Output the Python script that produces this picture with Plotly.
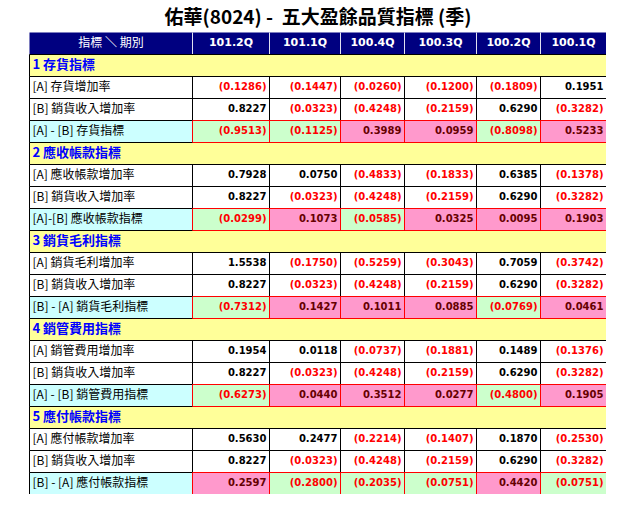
import plotly.graph_objects as go

periods = ["101.2Q", "101.1Q", "100.4Q", "100.3Q", "100.2Q", "100.1Q"]
corner_label = "指標 ＼ 期別"

section_titles = ["1 存貨指標", "2 應收帳款指標", "3 銷貨毛利指標", "4 銷管費用指標", "5 應付帳款指標"]
a_labels = ["[A] 存貨增加率", "[A] 應收帳款增加率", "[A] 銷貨毛利增加率", "[A] 銷管費用增加率", "[A] 應付帳款增加率"]
b_label = "[B] 銷貨收入增加率"
idx_labels = ["[A] - [B] 存貨指標", "[A]-[B] 應收帳款指標", "[B] - [A] 銷貨毛利指標",
              "[A] - [B] 銷管費用指標", "[B] - [A] 應付帳款指標"]

sales_growth = [0.8227, -0.0323, -0.4248, -0.2159, 0.6290, -0.3282]

inventory_growth = [-0.1286, -0.1447, -0.0260, -0.1200, -0.1809, 0.1951]
receivable_growth = [0.7928, 0.0750, -0.4833, -0.1833, 0.6385, -0.1378]
gross_profit_growth = [1.5538, -0.1750, -0.5259, -0.3043, 0.7059, -0.3742]
sga_growth = [0.1954, 0.0118, -0.0737, -0.1881, 0.1489, -0.1376]
payable_growth = [0.5630, 0.2477, -0.2214, -0.1407, 0.1870, -0.2530]

inventory_idx = [-0.9513, -0.1125, 0.3989, 0.0959, -0.8098, 0.5233]
receivable_idx = [-0.0299, 0.1073, -0.0585, 0.0325, 0.0095, 0.1903]
gross_profit_idx = [-0.7312, 0.1427, 0.1011, 0.0885, -0.0769, 0.0461]
sga_idx = [-0.6273, 0.0440, 0.3512, 0.0277, -0.4800, 0.1905]
payable_idx = [0.2597, -0.2800, -0.2035, -0.0751, 0.4420, -0.0751]

growth_rows = [inventory_growth, receivable_growth, gross_profit_growth, sga_growth, payable_growth]
idx_rows = [inventory_idx, receivable_idx, gross_profit_idx, sga_idx, payable_idx]

# pixel widths of the columns
col_widths = [163, 77, 71, 64, 72, 64, 66]

# fill palette: index -> colour
palette = ["#FFFFFF", "#FFFF99", "#CCFFFF", "#CCFFCC", "#FF99CC", "#000080"]
WHITE, YELLOW, CYAN, GREEN, PINK, NAVY = range(6)
CJK = "Noto Sans CJK TC"
NUM = "DejaVu Sans"
PAD = 3

edges = [0]
for w in col_widths:
    edges.append(edges[-1] + w)
ncol = len(col_widths)


def fmt(v):
    return "(%.4f)" % abs(v) if v < 0 else "%.4f" % v


# build rows: (kind, label, values)
rows = []
for s, title in enumerate(section_titles):
    rows.append(("sec", title, None))
    rows.append(("rate", a_labels[s], growth_rows[s]))
    rows.append(("rate", b_label, sales_growth))
    rows.append(("idx", idx_labels[s], idx_rows[s]))

nrows = len(rows) + 1  # + header

z = [[NAVY] * ncol]
for kind, label, vals in rows:
    if kind == "sec":
        z.append([YELLOW] * ncol)
    elif kind == "rate":
        z.append([WHITE] * ncol)
    else:
        z.append([CYAN] + [GREEN if v < 0 else PINK for v in vals])

n = len(palette)
colorscale = []
for i, c in enumerate(palette):
    colorscale.append([i / n, c])
    colorscale.append([(i + 1) / n, c])

fig = go.Figure()
fig.add_trace(go.Heatmap(
    z=z, x=edges, y=list(range(nrows + 1)),
    zmin=-0.5, zmax=n - 0.5, colorscale=colorscale,
    showscale=False, hoverinfo="skip",
))

# header text
fig.add_trace(go.Scatter(
    x=[(edges[0] + edges[1]) / 2], y=[0.5], mode="text", text=[corner_label],
    textposition="middle center", textfont=dict(family=CJK, size=12, color="white"),
    hoverinfo="skip", showlegend=False,
))
fig.add_trace(go.Scatter(
    x=[(edges[c] + edges[c + 1]) / 2 for c in range(1, ncol)], y=[0.5] * len(periods),
    mode="text", text=periods, textposition="middle center",
    textfont=dict(family=NUM, size=11, color="white", weight="bold"),
    hoverinfo="skip", showlegend=False,
))

# row labels and numbers
sec_y, sec_t, lab_y, lab_t = [], [], [], []
num_x, num_y, num_t, num_c = [], [], [], []
for r, (kind, label, vals) in enumerate(rows, start=1):
    if kind == "sec":
        sec_y.append(r + 0.5)
        sec_t.append(label)
        continue
    lab_y.append(r + 0.5)
    lab_t.append(label)
    for c, v in enumerate(vals, start=1):
        num_x.append(edges[c + 1] - PAD)
        num_y.append(r + 0.5)
        num_t.append(fmt(v))
        if v < 0:
            num_c.append("#FF0000")
        else:
            num_c.append("#660000" if kind == "idx" else "black")

fig.add_trace(go.Scatter(
    x=[edges[0] + PAD] * len(sec_y), y=sec_y, mode="text", text=sec_t,
    textposition="middle right",
    textfont=dict(family=CJK, size=13, color="#0000FF", weight="bold"),
    hoverinfo="skip", showlegend=False,
))
fig.add_trace(go.Scatter(
    x=[edges[0] + PAD] * len(lab_y), y=lab_y, mode="text", text=lab_t,
    textposition="middle right", textfont=dict(family=CJK, size=12, color="black"),
    hoverinfo="skip", showlegend=False,
))
fig.add_trace(go.Scatter(
    x=num_x, y=num_y, mode="text", text=num_t, textposition="middle left",
    textfont=dict(family=NUM, size=10, color=num_c, weight="bold"),
    hoverinfo="skip", showlegend=False,
))

# cell borders
shapes = []


def rect(x0, x1, y0, y1, color):
    shapes.append(dict(type="rect", xref="x", yref="y", x0=x0, x1=x1, y0=y0, y1=y1,
                       line=dict(color=color, width=1), fillcolor="rgba(0,0,0,0)", layer="above"))


# header separators
for c in range(1, ncol):
    shapes.append(dict(type="line", xref="x", yref="y", x0=edges[c], x1=edges[c], y0=0, y1=1,
                       line=dict(color="#E0E0F0", width=1), layer="above"))

red_cells = []
for r, (kind, label, vals) in enumerate(rows, start=1):
    if kind == "sec":
        rect(edges[0], edges[-1], r, r + 1, "black")
    elif kind == "rate":
        for c in range(ncol):
            rect(edges[c], edges[c + 1], r, r + 1, "black")
    else:
        rect(edges[0], edges[1], r, r + 1, "black")
        for c in range(1, ncol):
            red_cells.append((c, r))
for c, r in red_cells:
    rect(edges[c], edges[c + 1], r, r + 1, "#FF0000")

# table spans 29..606 x 32..494 in the window (body margin removed below)
W, H = 629, 517
left, right, top, bottom = 29, 606, 32, 494
row_px = (bottom - top) / nrows
y0 = -0.5 / row_px

fig.update_layout(
    width=W,
    height=H,
    margin=dict(l=left, r=W - right, t=top, b=H - bottom),
    paper_bgcolor="white",
    plot_bgcolor="white",
    showlegend=False,
    shapes=shapes,
    title=dict(
        text="<b>佑華(8024) -  五大盈餘品質指標 (季)</b>",
        x=318 / W, xanchor="center", y=1 - 17 / H, yanchor="middle",
        font=dict(family=CJK, size=19, color="black"),
    ),
    xaxis=dict(range=[-0.5, edges[-1] - 0.5], visible=False, fixedrange=True),
    yaxis=dict(range=[y0 + nrows, y0], visible=False, fixedrange=True),
)

fig.write_html(
    "out.html",
    config={"displayModeBar": False},
    post_script="document.body.style.margin='0';",
)
